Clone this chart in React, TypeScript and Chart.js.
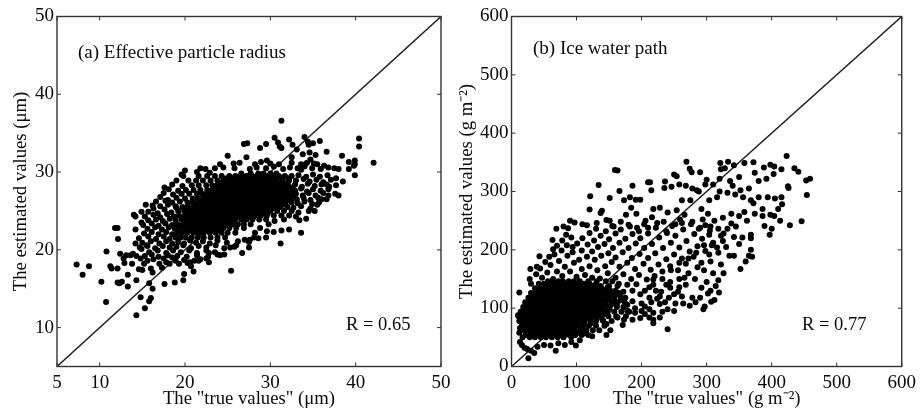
import React, { useEffect, useRef } from "react";
import { Chart, registerables } from "chart.js";

Chart.register(...registerables);

const FONT = "'Liberation Serif'";
const INK = "#0a0a0a";

const aTicksX = [5, 10, 20, 30, 40, 50];
const aTicksY = [10, 20, 30, 40, 50];
const bTicks = [0, 100, 200, 300, 400, 500, 600];
const aLine = [5, 50];
const bLine = [0, 600];

const aCoreRows: [number, number[]][] = [
  [29.8, [26.6, 27.7, 28.6, 29.2, 30.0, 30.7]],
  [29.2, [24.9, 25.6, 26.2, 26.9, 27.5, 28.1, 28.8, 29.4, 30.0, 30.7, 31.4, 32.1]],
  [28.6, [24.1, 24.8, 25.4, 26.0, 26.6, 27.3, 27.9, 28.5, 29.1, 29.8, 30.4, 31.1, 31.7]],
  [28.0, [23.4, 24.1, 24.7, 25.4, 26.0, 26.6, 27.2, 27.9, 28.5, 29.1, 29.8, 30.4, 31.1, 31.8, 32.6]],
  [27.5, [22.9, 23.5, 24.2, 24.8, 25.4, 26.0, 26.7, 27.3, 27.9, 28.6, 29.2, 29.8, 30.5, 31.1, 31.8, 32.5]],
  [26.9, [22.3, 23.0, 23.6, 24.2, 24.9, 25.5, 26.1, 26.7, 27.4, 28.0, 28.6, 29.3, 29.9, 30.5, 31.2, 31.9, 32.7]],
  [26.4, [21.7, 22.4, 23.0, 23.6, 24.2, 24.9, 25.5, 26.2, 26.8, 27.4, 28.1, 28.7, 29.3, 30.0, 30.6, 31.3, 32.0]],
  [25.8, [21.2, 21.8, 22.5, 23.1, 23.7, 24.4, 25.0, 25.6, 26.3, 26.9, 27.5, 28.2, 28.8, 29.5, 30.1, 30.7, 31.4]],
  [25.3, [20.6, 21.3, 21.9, 22.5, 23.2, 23.8, 24.4, 25.1, 25.7, 26.3, 27.0, 27.6, 28.2, 28.9, 29.5, 30.2, 30.8]],
  [24.7, [20.2, 20.8, 21.4, 22.0, 22.7, 23.3, 23.9, 24.6, 25.2, 25.8, 26.5, 27.1, 27.8, 28.4, 29.0, 29.7]],
  [24.2, [19.6, 20.3, 20.9, 21.5, 22.2, 22.8, 23.4, 24.1, 24.7, 25.3, 26.0, 26.6, 27.3, 28.0]],
  [23.6, [19.9, 20.5, 21.2, 21.8, 22.4, 23.1, 23.7, 24.3, 25.0, 25.6]],
  [23.1, [19.4, 20.1, 20.7, 21.3, 22.0, 22.6, 23.2, 23.9, 24.5, 25.2]],
  [22.5, [20.0, 20.6, 21.2, 21.9, 22.6, 23.3, 24.0]],
];

const aFillRows: [number, number[]][] = [
  [29.5, [19.8, 21.6, 22.6, 23.5, 24.3, 25.2, 25.9, 26.5, 27.2, 27.8, 28.4, 29.1, 29.7, 30.3, 31, 31.7, 32.5]],
  [28.9, [20.4, 21.3, 22.1, 23, 23.8, 24.5, 25.1, 25.7, 26.3, 26.9, 27.6, 28.2, 28.8, 29.4, 30.1, 30.7, 31.4, 32.2]],
  [28.3, [20.8, 21.6, 22.5, 23.2, 23.8, 24.4, 25, 25.7, 26.3, 26.9, 27.5, 28.2, 28.8, 29.4, 30.1, 30.7, 31.4, 32.1]],
  [27.7, [20.1, 21, 21.8, 22.6, 23.2, 23.9, 24.5, 25.1, 25.7, 26.4, 27, 27.6, 28.3, 28.9, 29.5, 30.2, 30.8, 31.5, 32.2]],
  [27.2, [20.5, 21.4, 22, 22.6, 23.3, 23.9, 24.5, 25.2, 25.8, 26.4, 27, 27.7, 28.3, 28.9, 29.6, 30.2, 30.9, 31.6, 32.3]],
  [26.6, [20, 20.9, 21.5, 22.1, 22.7, 23.3, 23.9, 24.6, 25.2, 25.8, 26.5, 27.1, 27.7, 28.4, 29, 29.6, 30.3, 30.9, 31.6, 32.4]],
  [26.1, [20.3, 20.9, 21.5, 22.1, 22.8, 23.4, 24, 24.7, 25.3, 25.9, 26.6, 27.2, 27.8, 28.5, 29.1, 29.8, 30.4, 31, 31.8, 32.5]],
  [25.5, [19.7, 20.3, 20.9, 21.6, 22.2, 22.8, 23.5, 24.1, 24.7, 25.4, 26, 26.6, 27.3, 27.9, 28.6, 29.2, 29.8, 30.5, 31.2, 32]],
  [25.0, [19.2, 19.9, 20.5, 21.1, 21.7, 22.4, 23, 23.6, 24.2, 24.9, 25.5, 26.2, 26.8, 27.4, 28.1, 28.7, 29.3, 30, 30.8, 31.6]],
  [24.4, [19.3, 20, 20.6, 21.2, 21.9, 22.5, 23.1, 23.8, 24.4, 25, 25.7, 26.3, 26.9, 27.6, 28.2, 28.9, 29.6, 30.4, 31.3]],
  [23.9, [19.6, 20.2, 20.8, 21.5, 22.1, 22.7, 23.4, 24, 24.6, 25.3, 25.9, 26.6, 27.2, 27.9, 28.7, 29.5]],
  [23.3, [19.1, 19.8, 20.4, 21, 21.7, 22.3, 22.9, 23.6, 24.2, 24.8, 25.5, 26.2, 26.9, 27.7]],
  [22.8, [19.4, 20, 20.7, 21.3, 21.9, 22.5, 23.2, 23.8, 24.5, 25.2, 26, 26.9]],
  [22.2, [19.1, 19.7, 20.3, 21, 21.6, 22.2, 22.9, 23.6, 24.3, 25, 25.9]],
  [21.6, [18.9, 19.5, 20.1, 20.8, 21.5, 22.2, 23, 23.8, 24.7]],
];

const aEdgePoints = [
  [7.3, 18.1], [8, 16.8], [8.75, 17.9], [10.2, 15.9], [10.75, 13.3], [10.8, 19.8], [11.8, 22.8], [12.1, 22.8], [12.15, 21.4], [11.25, 17.9], [11.4, 17.6], [12.1, 17.6], [12.1, 15.8], [12.3, 15.7], [12.6, 15.9], [13.3, 15.3], [13.3, 16.8], [14.3, 16.1], [14.8, 13.9], [14.3, 11.6], [15.3, 12.5], [15.8, 13.4], [16, 13.8], [16.2, 15], [15.8, 15.7], [17.6, 15.6], [18.8, 15.8], [19.8, 16.1], [19.9, 16.9], [21, 17.2], [25.4, 17.3], [31.2, 20.8], [33.6, 22.2], [31.3, 36.6], [42.1, 31.2], [40.4, 34.3], [40.4, 33.3], [39.9, 29.6], [39.9, 31.5], [39.9, 31], [39.8, 30.8], [39.2, 31.3], [39.2, 30.4], [38.4, 32.1], [38.5, 28.8], [37.7, 29.2], [36.6, 32.6], [35.8, 34], [35, 33.7], [34, 34.5], [34.4, 33.9], [34.5, 33.5], [32.6, 33.5], [32.2, 34.2], [30.5, 34.4], [30.9, 33.8], [31.1, 33.3], [31.3, 33.1], [29.5, 33.6], [28.8, 33.1], [27.3, 33.7], [26.9, 33.6], [25, 32.1], [27.2, 31.9],
  [12.4, 19.5], [12.8, 18.9], [13.1, 19.3], [13.6, 19.3], [13.9, 19.5], [13.8, 18.2], [12.9, 18.3], [14.8, 18.9], [15.2, 18.2], [15, 17.4], [14.6, 17.5], [15.3, 19.2], [14.2, 20.8], [14.9, 20.1], [15.5, 20.6], [16.1, 19.4], [16.3, 18.8], [16, 17.6], [16.2, 17.1], [17, 18.2], [17.3, 17.7], [17.5, 18.9], [18.2, 18.2], [18.5, 19], [19.3, 18.2], [19.9, 18.7], [20.3, 18.3], [20.7, 17.9], [21.1, 18.6], [21.8, 18.8], [22.5, 18.9], [22.8, 19.6], [23.8, 19.4], [24.6, 19.4], [25.3, 20.3], [26, 20.6], [26.7, 19.6], [27.5, 20.3], [28.6, 21.5], [29.5, 21.6], [30.4, 22.3], [31.3, 22.5], [32.2, 22.6], [27, 21.3], [27.6, 21.3], [14.2, 22.6], [14.9, 23.5], [14, 24.5], [14.2, 24.3], [14.9, 24.9], [15.4, 25.8], [17.6, 28], [33, 24.3], [33.4, 23.8], [34.2, 24], [34.5, 25], [35.2, 25], [35.5, 25.8], [36, 26.5], [36.8, 27], [37.6, 27.2], [38, 27], [36.6, 28.4], [36.3, 30.8], [35.5, 31], [37.5, 30.5], [38, 30.4], [34.1, 31], [34.7, 31.6], [35.3, 32.2], [34.6, 32.5], [33.8, 32.3], [33.1, 32.9], [32.5, 31.9], [29.6, 31.5], [25.7, 31.1], [24.1, 31], [23.5, 30.5], [22.9, 29.9], [21.8, 30.5], [21.4, 30], [20, 30.2], [19.6, 29.7],
];

const aLeftFringe = [
  [15.7, 24.9], [16.3, 25.3], [16.8, 24.7], [17.6, 25.2], [18.4, 24.8], [19, 25.4], [16.2, 25.7], [17.1, 25.6], [18, 25.8], [18.9, 25.6], [16.6, 26.2], [17.7, 26.3], [18.5, 26.1], [19.4, 26.2], [17.1, 26.8], [18, 26.4], [19, 26.7], [17.5, 27.3], [18.6, 27.1], [19.6, 27.2], [18.1, 27.8], [19.2, 27.6], [18.5, 28.4], [19.7, 28.2], [19, 28.9], [15.3, 24.3], [16.3, 24.5], [17.1, 24.2], [17.9, 24.6], [18.7, 24.3], [15.7, 23.8], [16.6, 23.9], [17.4, 23.7], [18.2, 24], [18.9, 23.8], [15.1, 23.2], [16.1, 23.4], [16.9, 23.1], [17.7, 23.4], [18.5, 23.2], [15.6, 22.7], [16.5, 22.9], [17.3, 22.6], [18.1, 22.9], [18.8, 22.7], [15.2, 22.1], [16.1, 22.3], [16.9, 22], [17.8, 22.3], [18.5, 22], [14.6, 21.5], [15.7, 21.7], [16.6, 21.4], [17.5, 21.7], [18.2, 21.4], [15, 20.9], [16, 21.1], [17, 20.8], [17.8, 21.1], [18.5, 20.8], [14.7, 20.3], [15.6, 20.5], [16.5, 20.2], [17.4, 20.5], [18.2, 20.3], [15.8, 19.7], [16.8, 19.9], [17.8, 19.6], [18.6, 19.9], [14.3, 19.2], [16.9, 19.1], [18, 19.3],
];

const aRightFringe = [
  [32.9, 28.4], [33.7, 28.1], [34.4, 28.5], [35.2, 28.2], [36, 28.4], [36.9, 28.1], [37.7, 28.3], [33, 28.9], [33.9, 29.1], [34.6, 28.8], [35.4, 29], [36.2, 28.7], [37.1, 29], [33.3, 29.6], [34.2, 29.4], [35, 29.7], [35.8, 29.4], [36.7, 29.6], [33.6, 30.3], [34.9, 30.5], [34, 30.7], [35.9, 30.4], [36.8, 30.6], [32.9, 27.6], [33.6, 27.9], [34.3, 27.5], [35, 27.8], [35.9, 27.6], [36.8, 27.8], [33, 27.2], [33.8, 27], [34.5, 27.3], [35.3, 27], [36.2, 27.3], [33.1, 26.5], [33.9, 26.7], [34.7, 26.4], [35.6, 26.7], [36.6, 26.5], [33.2, 26], [34, 26.2], [34.9, 25.9], [35.7, 26.1], [32.7, 25.4], [33.6, 25.6], [34.7, 25.3], [32.5, 25], [33.3, 24.8], [32.2, 24.4], [31.6, 23.9], [30.5, 23.7], [28.8, 22.8], [29.8, 23.3], [28.2, 22.2], [29.6, 22.4], [28.1, 21.6],
];

const aOuterFringe = [
  [19.2, 21], [19.9, 20.8], [20.6, 21.2], [21.3, 20.9], [22.1, 21.1], [22.9, 20.8], [23.8, 21.2], [24.9, 20.9], [26.2, 21.1], [27.5, 21], [19, 20.4], [19.8, 20.6], [20.7, 20.2], [21.6, 20.5], [22.5, 20.3], [23.6, 20.6], [24.6, 20.2], [25.8, 20.4], [19.5, 19.7], [20.5, 19.9], [21.4, 19.6], [22.5, 19.9], [23.5, 19.7], [19.1, 19.2], [20.2, 19.1], [21.4, 19.3], [22.7, 19.1], [24.1, 19.3], [15.6, 18.6], [17.8, 18.4], [18.9, 18.6], [20.6, 18.4], [21.6, 18.6], [22.8, 18.4],
  [26.4, 31.2], [28.2, 31], [28.9, 31.3], [30, 31.1], [31, 31], [32.5, 31.2], [33.6, 31], [34.3, 31.2], [35.1, 31.1], [22.4, 30.4], [24.5, 30.6], [25.8, 30.5], [27.6, 30.4], [28.4, 30.6], [29.5, 30.5], [30.4, 30.7], [31.5, 30.4], [32.3, 30.6], [33.2, 30.5],
];

const bCoreRows: [number, number[]][] = [
  [146, [56, 64, 72, 79, 88, 96, 105, 118, 131, 145]],
  [138, [47, 54, 62, 70, 77, 85, 92, 100, 108, 117, 126, 137, 150, 163]],
  [130, [41, 48, 56, 63, 71, 78, 86, 93, 101, 108, 116, 124, 133, 141, 152, 160]],
  [122, [36, 43, 50, 58, 65, 73, 80, 88, 95, 103, 110, 118, 125, 133, 141, 150, 158, 166]],
  [114, [29, 37, 44, 52, 59, 67, 74, 82, 89, 97, 104, 112, 119, 127, 134, 142, 150, 158, 168]],
  [106, [24, 31, 39, 46, 54, 61, 69, 76, 84, 91, 99, 106, 114, 121, 129, 136, 144, 153, 162]],
  [98, [21, 28, 36, 43, 51, 58, 66, 73, 81, 88, 96, 103, 111, 118, 126, 133, 141, 150]],
  [90, [18, 26, 33, 41, 48, 56, 63, 71, 78, 86, 93, 101, 108, 116, 124, 132, 143]],
  [82, [15, 22, 30, 37, 45, 52, 60, 67, 75, 82, 90, 97, 105, 113, 122, 131]],
  [74, [19, 27, 34, 42, 49, 57, 64, 72, 79, 87, 94, 102, 111, 122]],
  [66, [21, 29, 36, 44, 51, 59, 66, 74, 81, 89, 97, 108]],
  [58, [24, 32, 39, 47, 54, 62, 69, 77, 85, 94, 104]],
  [50, [17, 28, 36, 45, 53, 62, 71, 80, 92]],
];

const bFillRows: [number, number[]][] = [
  [54, [22, 33, 41, 49, 57, 65, 73, 81, 89, 98, 108, 118]],
  [62, [18, 26, 34, 42, 50, 57, 65, 73, 81, 89, 97, 106, 115, 125]],
  [70, [16, 24, 31, 39, 46, 54, 62, 70, 78, 85, 93, 101, 110, 119, 130, 143]],
  [78, [12, 20, 27, 35, 42, 50, 58, 65, 73, 80, 88, 96, 104, 112, 121, 130, 141, 154]],
  [86, [11, 19, 26, 34, 41, 49, 56, 64, 72, 79, 87, 95, 103, 111, 119, 128, 138, 149, 161, 176]],
  [94, [14, 22, 30, 37, 45, 53, 60, 68, 75, 83, 91, 98, 106, 114, 122, 130, 139, 148, 158, 169, 181]],
  [102, [18, 25, 33, 40, 48, 55, 63, 71, 78, 86, 93, 101, 109, 117, 125, 133, 142, 151, 162, 172]],
  [110, [21, 28, 35, 43, 50, 58, 65, 73, 80, 88, 96, 104, 111, 119, 127, 135, 144, 154, 163, 174]],
  [118, [26, 33, 41, 48, 55, 63, 70, 78, 85, 93, 100, 108, 116, 124, 132, 140, 149, 158, 168]],
  [126, [30, 38, 45, 53, 60, 68, 75, 83, 90, 98, 105, 113, 121, 129, 137, 146, 155, 165]],
  [134, [36, 44, 51, 59, 66, 74, 81, 89, 96, 104, 112, 120, 129, 138, 147]],
  [142, [30, 42, 50, 57, 65, 72, 80, 87, 95, 103, 111, 120, 130]],
];

const bEdgePoints = [
  [423, 361], [435, 340], [441, 334], [453, 319], [459, 322], [454, 294], [425, 309], [426, 306], [446, 249], [428, 242], [413, 250], [400, 236], [397, 226], [389, 241], [415, 338], [404, 343], [398, 346], [388, 341], [372, 350], [358, 349], [342, 345], [333, 351], [321, 349], [322, 338], [328, 340], [269, 351], [274, 339], [277, 333], [290, 333], [250, 329], [254, 326], [236, 317], [235, 306], [210, 316], [213, 316], [215, 302], [186, 310], [159, 337], [163, 336], [134, 311], [166, 301], [121, 292], [151, 289], [173, 285], [182, 290], [191, 286], [198, 286], [120, 269], [139, 267], [137, 263], [131, 246], [146, 251], [151, 250], [157, 240], [109, 244], [116, 242], [90, 250], [97, 247], [69, 236], [80, 240], [87, 237], [63, 217], [43, 189], [29, 167], [12, 127], [28, 150], [39, 171], [26, 14], [35, 23], [68, 27], [99, 36], [240, 64], [218, 74], [146, 54], [171, 71], [297, 103], [295, 98], [274, 104], [283, 110], [319, 127], [307, 111], [312, 114], [352, 167], [360, 180], [370, 188], [365, 190], [368, 200], [368, 226], [368, 220], [355, 221],
  [10, 88], [13, 66], [12, 58], [13, 42], [16, 37], [20, 32], [24, 30], [30, 27], [40, 34], [50, 37], [60, 36], [72, 40], [82, 37], [92, 42], [105, 45], [112, 57], [124, 52], [135, 62], [152, 62], [146, 73], [140, 80], [163, 84], [173, 80], [186, 80], [198, 83], [212, 84], [218, 80], [228, 84], [232, 94], [218, 92], [205, 90], [190, 92], [178, 96], [212, 98], [228, 107], [215, 110], [200, 108],
  [242, 118], [256, 128], [268, 140], [282, 150], [296, 165], [306, 180], [318, 195], [330, 205], [342, 190], [300, 145], [310, 160], [322, 175], [318, 148], [306, 130], [292, 135], [278, 118], [264, 108], [252, 108], [250, 95], [262, 120], [290, 118], [302, 125], [314, 138], [335, 190], [326, 160], [228, 120], [244, 135], [258, 150], [272, 160], [286, 170], [232, 150], [245, 165], [258, 178], [272, 185], [284, 195], [296, 208], [205, 130], [218, 140], [212, 118], [222, 130], [238, 140],
  [302, 262], [312, 250], [325, 255], [338, 262], [350, 258], [362, 250], [374, 262], [386, 258], [398, 260], [410, 270], [416, 278], [405, 288], [394, 290], [380, 290], [368, 285], [356, 290], [344, 295], [332, 298], [320, 300], [310, 312], [298, 312], [288, 300], [278, 305], [268, 310], [258, 312], [246, 308], [262, 285], [275, 285], [292, 270], [304, 285], [316, 290], [340, 310], [352, 302], [365, 305], [380, 318], [392, 322], [403, 330], [374, 332], [350, 325], [336, 318], [320, 322], [300, 320], [285, 302], [415, 290], [404, 258], [386, 270], [372, 280], [358, 265], [345, 240], [332, 236], [318, 236], [304, 226], [290, 238], [278, 248], [266, 260], [254, 268], [240, 264], [228, 272], [218, 270], [206, 250], [192, 262], [184, 272], [176, 260], [168, 248], [182, 240], [196, 232], [210, 238], [224, 246], [238, 232], [252, 244], [262, 246], [294, 252], [306, 240], [338, 245], [326, 228], [342, 222], [350, 210], [325, 215], [308, 208],
];

const bMiddlePoints = [
  [47, 152], [38, 158], [55, 161], [44, 168], [64, 150], [70, 163], [60, 174], [52, 179], [78, 155], [82, 171], [73, 181], [66, 192], [58, 188], [90, 163], [96, 178], [86, 190], [77, 199], [70, 207], [64, 201], [100, 154], [108, 167], [104, 183], [94, 196], [85, 208], [78, 216], [92, 221], [84, 226], [113, 157], [120, 172], [116, 188], [108, 199], [101, 211], [94, 205], [124, 152], [132, 165], [128, 183], [124, 197], [117, 209], [109, 220], [136, 151], [144, 172], [138, 190], [133, 205], [127, 216], [120, 229], [148, 160], [154, 179], [149, 194], [143, 210], [137, 224], [130, 236], [160, 152], [166, 171], [160, 187], [156, 203], [150, 218], [145, 232], [172, 158], [178, 178], [171, 196], [166, 212], [160, 228], [155, 241], [184, 150], [190, 167], [185, 186], [180, 203], [175, 219], [168, 235], [196, 157], [203, 176], [197, 193], [191, 211], [186, 227], [180, 243], [208, 149], [214, 166], [210, 186], [204, 203], [198, 220], [193, 238], [220, 155], [226, 175], [221, 194], [216, 210], [210, 228], [204, 244], [232, 163], [238, 184], [233, 203], [227, 221], [222, 238], [216, 256], [244, 172], [250, 192], [245, 212], [239, 229], [234, 248], [256, 165], [262, 185], [258, 204], [252, 224], [247, 241], [268, 176], [274, 197], [269, 215], [264, 235], [259, 252], [280, 188], [286, 206], [281, 227], [276, 244], [292, 178], [298, 198], [293, 219], [288, 236], [304, 192], [310, 212], [305, 233], [316, 204], [322, 224], [298, 242],
  [186, 112], [198, 124], [192, 141], [205, 103], [212, 136], [224, 116], [218, 149], [230, 128], [236, 110], [244, 145], [250, 124], [240, 98], [258, 136], [266, 152], [200, 95], [178, 140], [175, 118], [165, 142], [172, 128], [186, 130], [155, 146], [148, 136], [160, 128], [178, 106], [190, 100],
];

function toPoints(rows: [number, number[]][], fill: [number, number[]][], ...extra: number[][][]) {
  const fromRows = [...rows, ...fill].flatMap(([y, xs]) => xs.map((x) => ({ x, y })));
  return [...fromRows, ...extra.flat().map(([x, y]) => ({ x, y }))];
}

type Spec = {
  line: number[];
  ticksX: number[];
  ticksY: number[];
  points: { x: number; y: number }[];
  width: number;
  plotLeft: number;
  plotRight: number;
  xTitle: string;
  yTitle: string;
  titlePad: number;
  label: string;
  labelX: number;
  labelY: number;
  stat: string;
  statX: number;
};

function Panel({ spec, left }: { spec: Spec; left: number }) {
  const ref = useRef<HTMLCanvasElement>(null);
  useEffect(() => {
    const frame = {
      id: "frame",
      afterDatasetsDraw(chart: any) {
        const { ctx, chartArea: a, scales } = chart;
        ctx.save();
        ctx.strokeStyle = "#333";
        ctx.lineWidth = 1.4;
        ctx.strokeRect(a.left, a.top, a.right - a.left, a.bottom - a.top);
        ctx.lineWidth = 1;
        ctx.beginPath();
        for (const t of scales.x.ticks) {
          const p = scales.x.getPixelForValue(t.value);
          ctx.moveTo(p, a.bottom);
          ctx.lineTo(p, a.bottom - 4);
          ctx.moveTo(p, a.top);
          ctx.lineTo(p, a.top + 4);
        }
        for (const t of scales.y.ticks) {
          const p = scales.y.getPixelForValue(t.value);
          ctx.moveTo(a.left, p);
          ctx.lineTo(a.left + 4, p);
          ctx.moveTo(a.right, p);
          ctx.lineTo(a.right - 4, p);
        }
        ctx.stroke();
        ctx.fillStyle = INK;
        ctx.font = `19px ${FONT}`;
        ctx.textBaseline = "alphabetic";
        ctx.fillText(spec.label, spec.labelX, spec.labelY);
        ctx.font = `18.5px ${FONT}`;
        ctx.fillText(spec.stat, spec.statX, 330);
        ctx.restore();
      },
    };
    const tickFont = { family: FONT, size: 19 };
    const titleFont = { family: FONT, size: 18.7 };
    const chart = new Chart(ref.current!, {
      type: "scatter",
      data: {
        datasets: [
          {
            data: spec.points,
            backgroundColor: "#000",
            borderWidth: 0,
            pointRadius: 3,
            showLine: false,
          },
          {
            data: spec.line.map((v) => ({ x: v, y: v })),
            showLine: true,
            borderColor: "#222",
            borderWidth: 1.5,
            pointRadius: 0,
          },
        ],
      },
      options: {
        animation: false,
        responsive: false,
        layout: { padding: { top: 16.5, right: spec.width - spec.plotRight, left: 0, bottom: 0 } },
        plugins: { legend: { display: false }, tooltip: { enabled: false } },
        scales: {
          x: {
            type: "linear",
            min: spec.line[0],
            max: spec.line[1],
            grid: { display: false, drawTicks: false },
            border: { display: false },
            afterBuildTicks: (s: any) => {
              s.ticks = spec.ticksX.map((value) => ({ value }));
            },
            afterFit: (s: any) => {
              s.height = 411 - 366.5;
            },
            ticks: { font: tickFont, color: INK, padding: 5, maxRotation: 0, autoSkip: false, callback: (v: any) => String(v) },
            title: { display: true, text: spec.xTitle, font: titleFont, color: INK, padding: { top: 0, bottom: 1 } },
          },
          y: {
            type: "linear",
            min: spec.line[0],
            max: spec.line[1],
            grid: { display: false, drawTicks: false },
            border: { display: false },
            afterBuildTicks: (s: any) => {
              s.ticks = spec.ticksY.map((value) => ({ value }));
            },
            afterFit: (s: any) => {
              s.width = spec.plotLeft;
            },
            ticks: { font: tickFont, color: INK, padding: 3, autoSkip: false, callback: (v: any) => String(v) },
            title: { display: true, text: spec.yTitle, font: titleFont, color: INK, padding: { top: spec.titlePad, bottom: 0 } },
          },
        },
      },
      plugins: [frame],
    } as any);
    return () => chart.destroy();
  }, [spec]);
  return (
    <canvas
      ref={ref}
      width={spec.width}
      height={411}
      style={{ position: "absolute", left, top: 0, width: spec.width, height: 411 }}
    />
  );
}

const specA: Spec = {
  line: aLine,
  ticksX: aTicksX,
  ticksY: aTicksY,
  points: toPoints(aCoreRows, aFillRows, aEdgePoints, aLeftFringe, aRightFringe, aOuterFringe),
  width: 460,
  plotLeft: 57,
  plotRight: 441,
  xTitle: 'The "true values" (μm)',
  yTitle: "The estimated values (μm)",
  titlePad: 10,
  label: "(a) Effective particle radius",
  labelX: 78,
  labelY: 58,
  stat: "R = 0.65",
  statX: 346,
};

const specB: Spec = {
  line: bLine,
  ticksX: bTicks,
  ticksY: bTicks,
  points: toPoints(bCoreRows, bFillRows, bEdgePoints, bMiddlePoints),
  width: 471,
  plotLeft: 61.5,
  plotRight: 455,
  xTitle: 'The "true values" (g m⁻²)',
  yTitle: "The estimated values (g m⁻²)",
  titlePad: 6,
  label: "(b) Ice water path",
  labelX: 83,
  labelY: 54,
  stat: "R = 0.77",
  statX: 352,
};

export default function App() {
  return (
    <div style={{ position: "relative", width: 921, height: 411, background: "#fff" }}>
      <div style={{ position: "fixed", left: 0, top: 0, width: 921, height: 411, background: "#fff" }}>
        <Panel spec={specA} left={0} />
        <Panel spec={specB} left={450} />
      </div>
    </div>
  );
}
